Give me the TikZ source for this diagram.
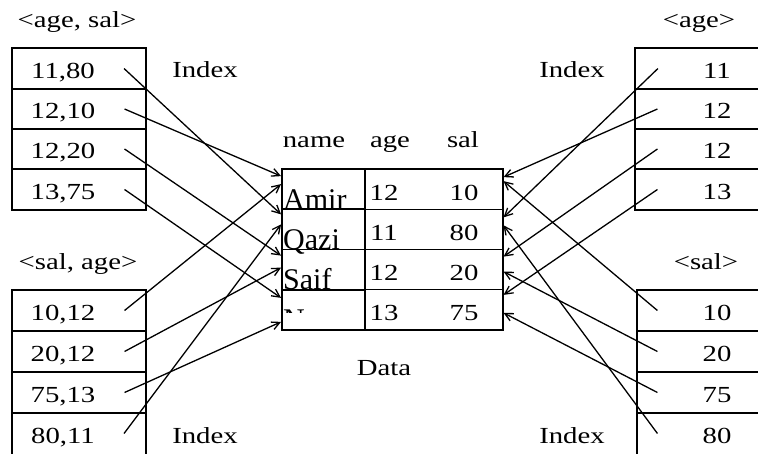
\documentclass[tikz,border=0pt]{standalone}
\usepackage{fontspec}
\setmainfont{Liberation Serif}[FakeStretch=1.25]
\newfontfamily\namefont{Liberation Serif}
\usetikzlibrary{arrows.meta,positioning}

\tikzset{
  gridline/.style={draw=black, line width=1.1pt},
  namecell/.style={
    draw=black, line width=1.9pt,
    minimum width=83pt, minimum height=40.25pt, inner sep=0pt,
  },
  rowcell/.style={
    draw=black, line width=1.1pt,
    minimum width=138pt, minimum height=40.25pt, inner sep=0pt,
  },
  valtext/.style={
    font=\fontsize{23}{26}\selectfont, inner sep=0pt, anchor=base,
  },
  nametext/.style={
    font=\namefont\fontsize{30}{32}\selectfont, inner sep=0pt,
    anchor=base west,
  },
  ptr/.style={
    -{Straight Barb[length=8pt,width=8pt,line width=1.3pt]}, line width=1.3pt,
  },
}

\begin{document}
\begin{tikzpicture}[x=1pt,y=-1pt]
  \useasboundingbox (0,0) rectangle (758,454);

  % ─── Data table ───────────────────────────────────────────────────────
  \node[valtext] (hname) at (314,148) {name};
  \node[valtext] (hage)  at (390,148) {age};
  \node[valtext] (hsal)  at (463,148) {sal};

  \foreach \i/\yc/\cut/\nm/\ag/\sl in
    {1/189.125/215/Amir/12/10, 2/229.375/255/Qazi/11/80,
     3/269.625/296/Saif/12/20, 4/309.875/313/N/13/75}
  {
    \node[rowcell] (rw\i) at (434,\yc) {};
    \node[valtext] at (384,{\yc+11}) {\ag};
    \node[valtext] at (464,{\yc+11}) {\sl};
    \begin{scope}
      \clip (282,{\yc-20.125}) rectangle (365,\cut);
      \node[nametext] at (283,{\yc+20.125}) {\nm};
    \end{scope}
    \node[namecell] (nm\i) at (323.5,\yc) {};
  }

  \node[valtext] (data) at (384,375) {Data};

  % ─── Index <age, sal> (top left) ──────────────────────────────────────
  \node[valtext] (has) at (77,28) {<age, sal>};
  \draw[gridline] (12,48) rectangle (146,210);
  \foreach \y in {89,129,169} \draw[gridline] (12,\y) -- (146,\y);
  \foreach \i/\yb/\v in {1/78.5/{11,80}, 2/119/{12,10}, 3/159/{12,20}, 4/199.5/{13,75}}
    \node[valtext] (as\i) at (63,\yb) {\v};
  \node[valtext] (ixas) at (205,78) {Index};

  % ─── Index <sal, age> (bottom left) ───────────────────────────────────
  \node[valtext] (hsa) at (78,270) {<sal, age>};
  \draw[gridline] (12,456) |- (146,290) -- (146,456);
  \foreach \y in {331,372,413} \draw[gridline] (12,\y) -- (146,\y);
  \foreach \i/\yb/\v in {1/320.5/{10,12}, 2/361.5/{20,12}, 3/402.5/{75,13}, 4/443.5/{80,11}}
    \node[valtext] (sa\i) at (63,\yb) {\v};
  \node[valtext] (ixsa) at (205,443) {Index};

  % ─── Index <age> (top right) ──────────────────────────────────────────
  \node[valtext] (hag) at (699,28) {<age>};
  \draw[gridline] (759,48) -| (635,210) -- (759,210);
  \foreach \y in {89,129,169} \draw[gridline] (635,\y) -- (759,\y);
  \foreach \i/\yb/\v in {1/78.5/11, 2/119/12, 3/159/12, 4/199.5/13}
    \node[valtext] (ag\i) at (717,\yb) {\v};
  \node[valtext] (ixag) at (572,78) {Index};

  % ─── Index <sal> (bottom right) ───────────────────────────────────────
  \node[valtext] (hsl) at (706,270) {<sal>};
  \draw[gridline] (637,456) |- (759,290);
  \foreach \y in {331,372,413} \draw[gridline] (637,\y) -- (759,\y);
  \foreach \i/\yb/\v in {1/320.5/10, 2/361.5/20, 3/402.5/75, 4/443.5/80}
    \node[valtext] (sl\i) at (717,\yb) {\v};
  \node[valtext] (ixsl) at (572,443) {Index};

  % ─── Pointers into the data rows ──────────────────────────────────────
  \draw[ptr] ([xshift=29pt,yshift=10pt]as1.base east) -- ([yshift=15pt]nm2.west);
  \draw[ptr] ([xshift=29pt,yshift=10pt]as2.base east) -- ([yshift=13pt]nm1.west);
  \draw[ptr] ([xshift=29pt,yshift=10pt]as3.base east) -- ([yshift=14pt]nm3.west);
  \draw[ptr] ([xshift=29pt,yshift=10pt]as4.base east) -- ([yshift=12pt]nm4.west);

  \draw[ptr] ([xshift=29pt,yshift=10pt]sa1.base east) -- ([yshift=5pt]nm1.west);
  \draw[ptr] ([xshift=29pt,yshift=10pt]sa2.base east) -- ([yshift=2pt]nm3.west);
  \draw[ptr] ([xshift=29pt,yshift=10pt]sa3.base east) -- ([yshift=-12pt]nm4.west);
  \draw[ptr] ([xshift=29pt,yshift=10pt]sa4.base east) -- ([yshift=5pt]nm2.west);

  \draw[ptr] ([xshift=-45pt,yshift=10pt]ag1.base west) -- ([yshift=12pt]rw2.east);
  \draw[ptr] ([xshift=-45pt,yshift=10pt]ag2.base west) -- ([yshift=12pt]rw1.east);
  \draw[ptr] ([xshift=-45pt,yshift=10pt]ag3.base west) -- ([yshift=13pt]rw3.east);
  \draw[ptr] ([xshift=-45pt,yshift=10pt]ag4.base west) -- ([yshift=15pt]rw4.east);

  \draw[ptr] ([xshift=-45pt,yshift=10pt]sl1.base west) -- ([yshift=8pt]rw1.east);
  \draw[ptr] ([xshift=-45pt,yshift=10pt]sl2.base west) -- ([yshift=-2pt]rw3.east);
  \draw[ptr] ([xshift=-45pt,yshift=10pt]sl3.base west) -- ([yshift=-3pt]rw4.east);
  \draw[ptr] ([xshift=-45pt,yshift=10pt]sl4.base west) -- ([yshift=4pt]rw2.east);

\end{tikzpicture}
\end{document}
